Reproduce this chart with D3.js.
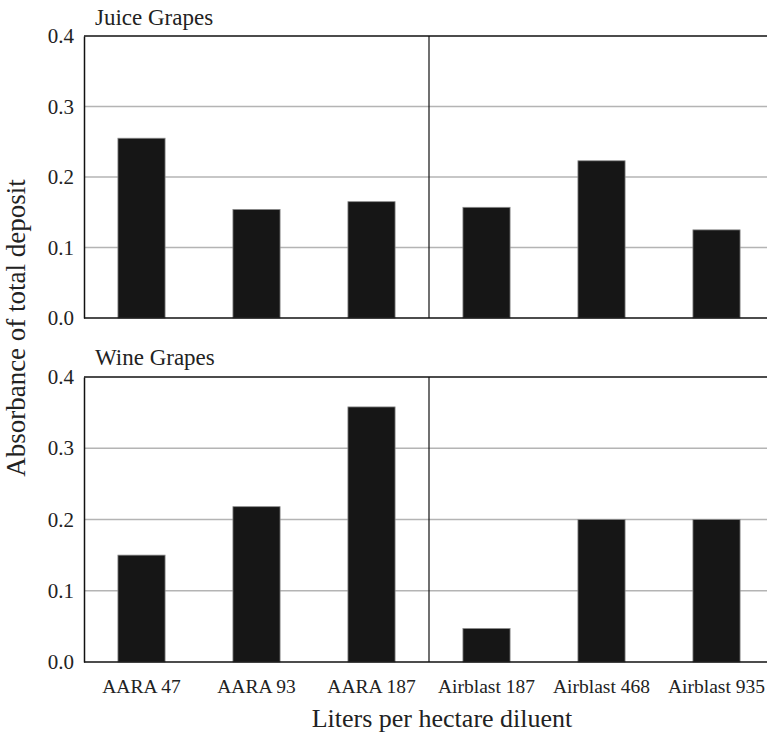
<!DOCTYPE html>
<html>
<head>
<meta charset="utf-8">
<script src="https://cdn.jsdelivr.net/npm/d3@7"></script>
<style>
  body { margin: 0; background: #fff; }
</style>
</head>
<body>
<svg id="chart" width="767" height="732"></svg>
<script>
const categories = ['AARA 47', 'AARA 93', 'AARA 187', 'Airblast 187', 'Airblast 468', 'Airblast 935'];
const juiceValues = [0.255, 0.154, 0.165, 0.157, 0.223, 0.125];
const wineValues = [0.150, 0.218, 0.358, 0.047, 0.200, 0.200];
const yTicks = [0.0, 0.1, 0.2, 0.3, 0.4];

const FONT = "'Liberation Serif'";

const panels = [
  { title: 'Juice Grapes', values: juiceValues, top: 36, bottom: 318, titleY: 25 },
  { title: 'Wine Grapes', values: wineValues, top: 377, bottom: 662, titleY: 365 },
];

const svg = d3.select('#chart');
const left = 84, right = 774;

const x = d3.scaleBand()
  .domain(categories)
  .range([left, right])
  .paddingInner(0.59)
  .paddingOuter(0.295);

for (const p of panels) {
  const y = d3.scaleLinear().domain([0, 0.4]).range([p.bottom, p.top]);
  const g = svg.append('g');

  // Gridlines
  g.append('g')
    .selectAll('line')
    .data(yTicks.filter(t => t > 0 && t < 0.4))
    .join('line')
    .attr('x1', left).attr('x2', 767)
    .attr('y1', d => y(d)).attr('y2', d => y(d))
    .attr('stroke', '#b4b4b4')
    .attr('stroke-width', 1.5);

  // Bars
  g.append('g')
    .selectAll('rect')
    .data(p.values)
    .join('rect')
    .attr('x', (d, i) => x(categories[i]))
    .attr('width', x.bandwidth())
    .attr('y', d => y(d))
    .attr('height', d => y(0) - y(d))
    .attr('fill', '#161616')
    .attr('stroke', '#8a8a8a')
    .attr('stroke-width', 0.8);

  // Frame: top, bottom
  g.append('line')
    .attr('x1', left).attr('x2', 767)
    .attr('y1', y(0.4)).attr('y2', y(0.4))
    .attr('stroke', '#111').attr('stroke-width', 1.5);
  g.append('line')
    .attr('x1', left).attr('x2', 767)
    .attr('y1', y(0)).attr('y2', y(0))
    .attr('stroke', '#111').attr('stroke-width', 1.5);

  // Divider between AARA and Airblast groups
  const divX = x(categories[3]) - x.step() * x.paddingInner() / 2;
  g.append('line')
    .attr('x1', divX).attr('x2', divX)
    .attr('y1', y(0.4)).attr('y2', y(0))
    .attr('stroke', '#111').attr('stroke-width', 1.2);

  // Left axis
  const axis = g.append('g')
    .attr('transform', `translate(${left},0)`)
    .call(d3.axisLeft(y).tickValues(yTicks).tickFormat(d3.format('.1f')).tickSize(0).tickPadding(10));
  axis.attr('font-family', null).attr('font-size', null);
  axis.select('.domain').attr('stroke', '#111').attr('stroke-width', 1.5);
  axis.selectAll('text')
    .style('font-family', FONT)
    .style('font-size', '21px')
    .attr('fill', '#222');

  // Panel title
  g.append('text')
    .attr('x', 95).attr('y', p.titleY)
    .style('font-family', FONT)
    .style('font-size', '23px')
    .attr('fill', '#222')
    .text(p.title);
}

// Category labels
svg.append('g')
  .selectAll('text')
  .data(categories)
  .join('text')
  .attr('x', d => x(d) + x.bandwidth() / 2)
  .attr('y', 693)
  .attr('text-anchor', 'middle')
  .style('font-family', FONT)
  .style('font-size', '19.5px')
  .attr('fill', '#222')
  .text(d => d);

// Axis titles
svg.append('text')
  .attr('x', 442).attr('y', 727)
  .attr('text-anchor', 'middle')
  .style('font-family', FONT)
  .style('font-size', '26px')
  .attr('fill', '#222')
  .text('Liters per hectare diluent');

svg.append('text')
  .attr('transform', 'translate(25,328) rotate(-90)')
  .attr('text-anchor', 'middle')
  .style('font-family', FONT)
  .style('font-size', '27px')
  .attr('fill', '#222')
  .text('Absorbance of total deposit');
</script>
</body>
</html>
